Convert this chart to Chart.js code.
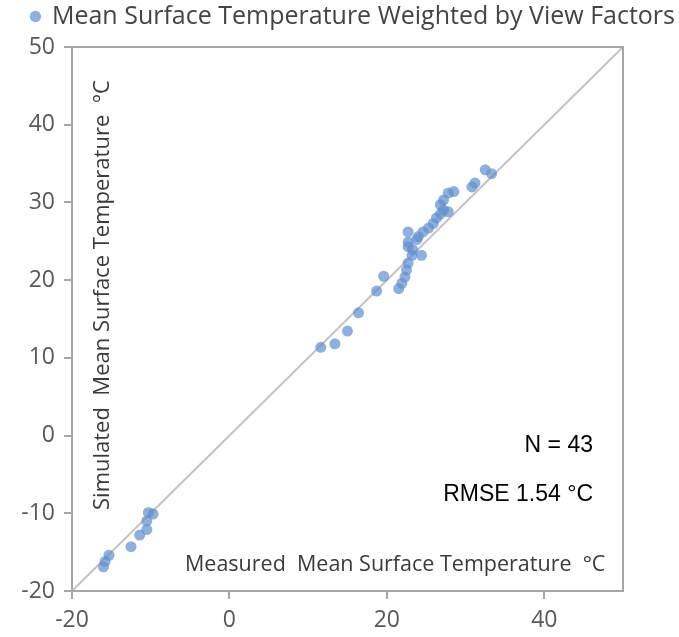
<!DOCTYPE html>
<html>
<head>
<meta charset="utf-8">
<script src="https://cdn.jsdelivr.net/npm/chart.js@4.4.0/dist/chart.umd.min.js"></script>
<style>
  html, body { margin: 0; padding: 0; background: #fff; }
  #wrap { width: 679px; height: 637px; }
</style>
</head>
<body>
<div id="wrap"><canvas id="chart"></canvas></div>
<script>
// measured (x) vs simulated (y), degrees C
var measured = [
    -16.0, -15.8, -15.3, -12.5, -11.4, -10.5, -10.5, -10.3, -9.7,
    11.6, 13.4, 15.0, 16.4, 18.7, 19.6,
    21.5, 21.9, 22.3, 22.5, 22.7, 23.2, 24.4, 22.7, 22.7, 22.7,
    23.8, 24.0, 24.6, 25.3, 25.9, 26.8, 27.2, 27.8, 26.8, 27.2,
    27.8, 28.5, 30.8, 31.2, 32.5, 33.3, 23.3, 26.3
];
var simulated = [
    -16.9, -16.2, -15.4, -14.3, -12.8, -12.1, -11.0, -9.9, -10.1,
    11.35, 11.8, 13.45, 15.8, 18.6, 20.5,
    18.9, 19.6, 20.4, 21.3, 22.2, 23.2, 23.2, 24.3, 24.9, 26.2,
    25.2, 25.6, 26.2, 26.7, 27.3, 28.5, 29.0, 28.8, 29.7, 30.3,
    31.2, 31.4, 32.0, 32.5, 34.2, 33.7, 23.9, 28.0
];
var lineEnds = [-20, 50];
var seriesLabel = 'Mean Surface Temperature Weighted by View Factors';
var xTitle = 'Measured  Mean Surface Temperature  \u00B0C';
var yTitle = 'Simulated  Mean Surface Temperature  \u00B0C';
var notes = ['N = 43', 'RMSE 1.54 \u00B0C'];

var points = measured.map((m, i) => { return { x: m, y: simulated[i] }; });

var axisGray = '#a6a6a6';
var tickFont = { family: 'Open Sans', size: 23 };

// frame, in-plot titles and notes
var extras = {
    id: 'extras',
    beforeInit(chart) {
        var legend = chart.legend;
        if (legend) {
            var fit = legend.fit;
            legend.fit = function() { fit.call(legend); legend.height = 47; };
        }
    },
    afterDraw(chart) {
        var ctx = chart.ctx, a = chart.chartArea;
        ctx.save();
        ctx.strokeStyle = axisGray;
        ctx.lineWidth = 2;
        ctx.strokeRect(a.left, a.top, a.right - a.left, a.bottom - a.top);

        ctx.fillStyle = '#3a3a3a';
        ctx.textBaseline = 'middle';
        ctx.textAlign = 'left';
        ctx.font = '21.5px "Open Sans"';
        ctx.fillText(xTitle, a.left + 113, a.bottom - 26);

        ctx.save();
        ctx.translate(a.left + 31, a.top + 248);
        ctx.rotate(-Math.PI / 2);
        ctx.textAlign = 'center';
        ctx.font = '22px "Open Sans"';
        ctx.fillText(yTitle, 0, 0);
        ctx.restore();

        ctx.fillStyle = '#000';
        ctx.font = '23px "Liberation Sans"';
        ctx.textAlign = 'right';
        ctx.fillText(notes[0], a.left + 521, a.top + 399);
        ctx.fillText(notes[1], a.left + 521, a.top + 448);
        ctx.restore();
    }
};

var chart = new Chart(document.getElementById('chart'), {
    type: 'scatter',
    data: {
        datasets: [{
            label: seriesLabel,
            data: points,
            backgroundColor: 'rgba(96,143,205,0.7)',
            borderWidth: 0,
            pointRadius: 5.5,
            pointHoverRadius: 5.5
        }, {
            type: 'line',
            label: '1:1',
            data: lineEnds.map((v) => { return { x: v, y: v }; }),
            borderColor: '#c4c4c4',
            borderWidth: 2,
            pointRadius: 0,
            fill: false
        }]
    },
    options: {
        responsive: true,
        maintainAspectRatio: false,
        animation: false,
        layout: { padding: 0 },
        plugins: {
            tooltip: { enabled: false },
            legend: {
                position: 'top',
                align: 'end',
                labels: {
                    usePointStyle: true,
                    boxWidth: 8,
                    boxHeight: 8,
                    color: '#444',
                    font: { family: 'Open Sans', size: 25 },
                    padding: 4,
                    filter: (item) => item.datasetIndex === 0
                }
            }
        },
        scales: {
            x: {
                type: 'linear',
                min: -20,
                max: 50,
                ticks: { stepSize: 20, includeBounds: false, color: '#595959', font: tickFont, padding: 8 },
                grid: { drawOnChartArea: false, tickLength: 8, color: axisGray, lineWidth: 2 },
                border: { color: axisGray, width: 2 },
                afterFit: (s) => { s.height = 46; }
            },
            y: {
                type: 'linear',
                min: -20,
                max: 50,
                ticks: { stepSize: 10, color: '#595959', font: tickFont, padding: 9 },
                grid: { drawOnChartArea: false, tickLength: 8, color: axisGray, lineWidth: 2 },
                border: { color: axisGray, width: 2 },
                afterFit: (s) => { s.width = 72; }
            },
            yr: {
                type: 'linear',
                position: 'right',
                display: true,
                ticks: { display: false },
                grid: { display: false },
                border: { display: false },
                afterFit: (s) => { s.width = 56; }
            }
        }
    },
    plugins: [extras]
});
</script>
</body>
</html>
